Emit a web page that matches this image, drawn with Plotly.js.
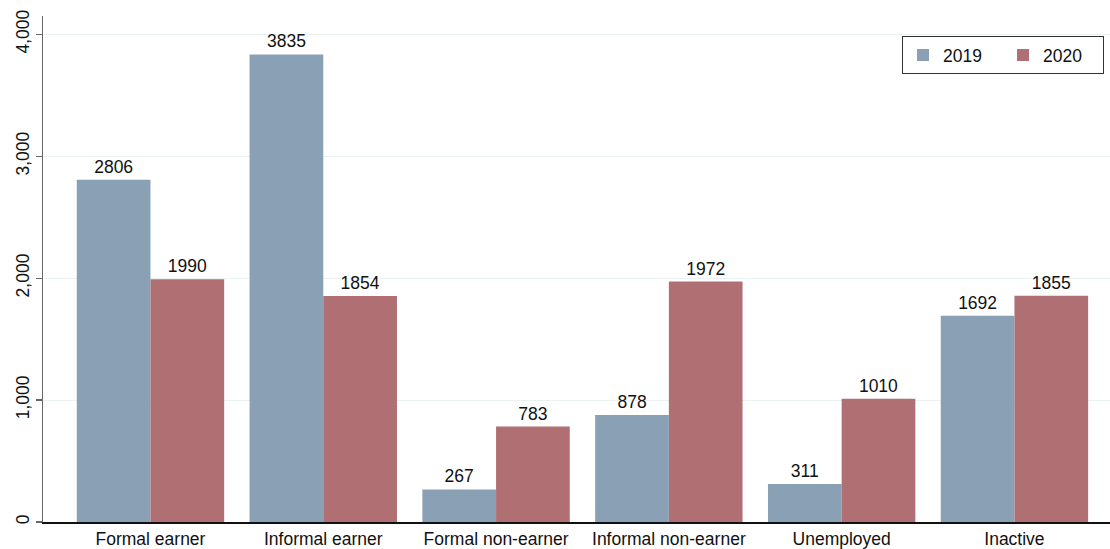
<!DOCTYPE html>
<html>
<head>
<meta charset="utf-8">
<script src="https://cdn.plot.ly/plotly-3.0.1.min.js"></script>
<style>html,body{margin:0;padding:0;background:#fff;}#chart{width:1110px;height:549px;}</style>
</head>
<body>
<div id="chart"></div>
<script>
const categories = ["Formal earner", "Informal earner", "Formal non-earner", "Informal non-earner", "Unemployed", "Inactive"];
const values2019 = [2806, 3835, 267, 878, 311, 1692];
const values2020 = [1990, 1854, 783, 1972, 1010, 1855];
const seriesNames = ["2019", "2020"];
const yTicks = [0, 1000, 2000, 3000, 4000];

const FONT = "Liberation Sans, Arial, sans-serif";
const mk = (name, vals, color) => ({
  type: "bar", name: name, x: categories, y: vals,
  marker: {color: color, line: {width: 0}},
  text: vals.map(String), textposition: "outside", cliponaxis: false,
  textfont: {family: FONT, size: 17.5, color: "#111"},
  hoverinfo: "x+y"
});
const data = [
  mk(seriesNames[0], values2019, "#8aa1b5"),
  mk(seriesNames[1], values2020, "#b07073")
];
const layout = {
  width: 1110, height: 549,
  margin: {l: 43, r: 0, t: 16, b: 27, pad: 0},
  paper_bgcolor: "#fff", plot_bgcolor: "#fff",
  font: {family: FONT, size: 17.5, color: "#111"},
  barmode: "group", bargap: 0.147, bargroupgap: 0,
  showlegend: true,
  legend: {
    orientation: "h", x: 0.9944, xanchor: "right", y: 0.960, yanchor: "top",
    bordercolor: "#333", borderwidth: 1, bgcolor: "#fff",
    font: {family: FONT, size: 17.5, color: "#111"},
    entrywidth: 55, entrywidthmode: "pixels"
  },
  xaxis: {
    type: "category", range: [-0.622, 5.553],
    showline: true, linecolor: "#111", linewidth: 1.5,
    ticks: "", showgrid: false, zeroline: false,
    tickfont: {family: FONT, size: 17.5, color: "#111"}
  },
  yaxis: {
    range: [0, 4150], tickvals: yTicks, tickformat: ",d",
    tickangle: -90,
    showline: true, linecolor: "#666", linewidth: 1.5,
    ticks: "outside", ticklen: 6, tickcolor: "#666", tickwidth: 1.2,
    showgrid: true, gridcolor: "#eaf1f3", gridwidth: 1,
    zeroline: false,
    tickfont: {family: FONT, size: 17.5, color: "#111"}
  }
};
Plotly.newPlot("chart", data, layout, {displayModeBar: false, staticPlot: true});
</script>
</body>
</html>
